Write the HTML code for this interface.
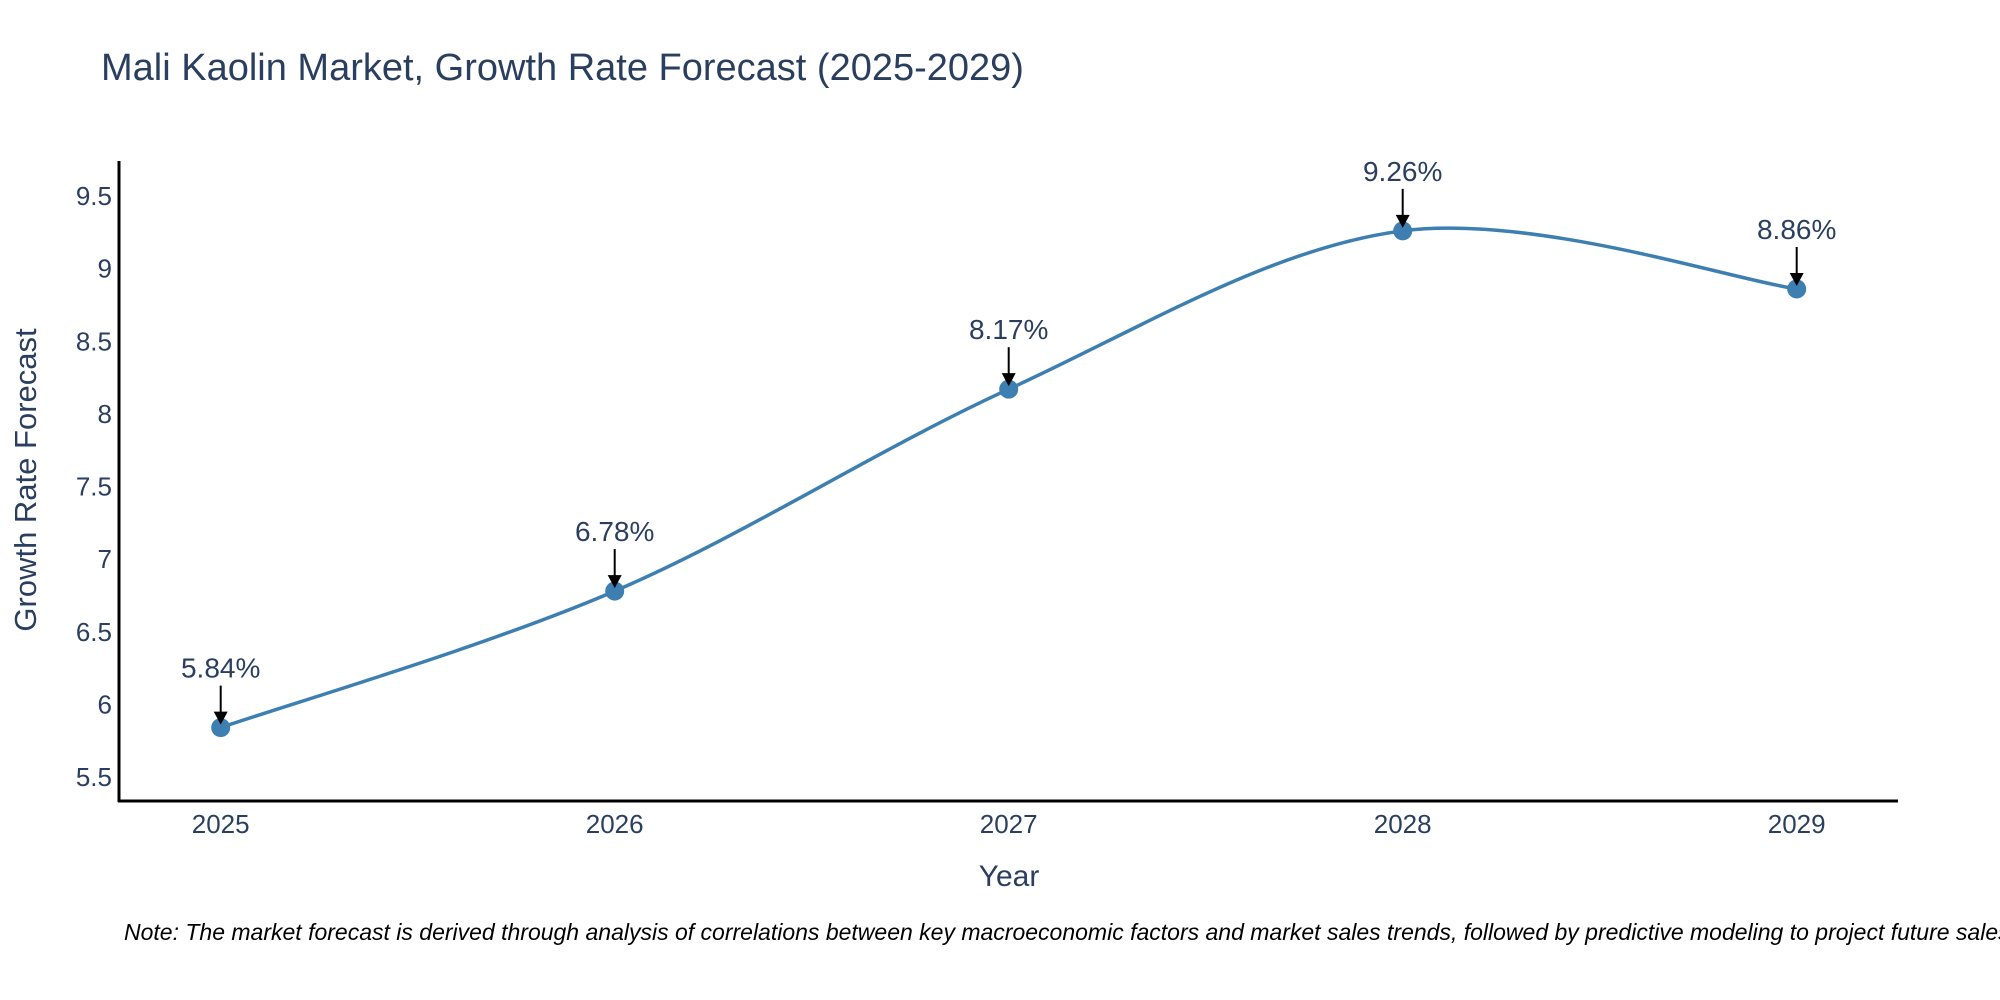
<!DOCTYPE html>
<html><head><meta charset="utf-8"><style>
html,body{margin:0;padding:0;background:#fff;width:2000px;height:1000px;overflow:hidden}
text{font-family:"Liberation Sans","DejaVu Sans",sans-serif}
</style></head><body>
<svg id="chart" width="2000" height="1000" xmlns="http://www.w3.org/2000/svg">
<text x="101" y="80" font-size="38" fill="#2a3f5f">Mali Kaolin Market, Growth Rate Forecast (2025-2029)</text>
<g id="yticks"></g>
<g id="xticks"></g>
<line x1="119" y1="161" x2="119" y2="802" stroke="#000" stroke-width="3"/>
<line x1="118" y1="801" x2="1898" y2="801" stroke="#000" stroke-width="3"/>
<text transform="translate(36,480) rotate(-90)" text-anchor="middle" font-size="31" fill="#2a3f5f">Growth Rate Forecast</text>
<text x="1009" y="886" text-anchor="middle" font-size="30" fill="#2a3f5f">Year</text>
<path id="line" fill="none" stroke="#3d7fb0" stroke-width="3.5"/>
<g id="points"></g>
<text x="124" y="940" font-size="23" font-style="italic" fill="#000">Note: The market forecast is derived through analysis of correlations between key macroeconomic factors and market sales trends, followed by predictive modeling to project future sales.</text>
</svg>
<script>
const years = [2025, 2026, 2027, 2028, 2029];
const values = [5.84, 6.78, 8.17, 9.26, 8.86];
const labels = ["5.84%", "6.78%", "8.17%", "9.26%", "8.86%"];
const yTicks = [5.5, 6, 6.5, 7, 7.5, 8, 8.5, 9, 9.5];
const yTickLabels = ["5.5", "6", "6.5", "7", "7.5", "8", "8.5", "9", "9.5"];

const NS = "http://www.w3.org/2000/svg";
function xScale(v){ return 220.7 + (v - 2025) * 394; }
function yScale(v){ return 777 - (v - 5.5) * 145.25; }
function mk(tag, attrs, parent){
  const el = document.createElementNS(NS, tag);
  for (const k in attrs) el.setAttribute(k, attrs[k]);
  parent.appendChild(el);
  return el;
}
const yg = document.getElementById('yticks');
yTicks.forEach((t, i) => {
  const el = mk('text', {x: 112, y: yScale(t) + 9, 'text-anchor': 'end', 'font-size': 26, fill: '#2a3f5f'}, yg);
  
  
  el.textContent = yTickLabels[i];
});
const xg = document.getElementById('xticks');
years.forEach(y => {
  const el = mk('text', {x: xScale(y), y: 833, 'text-anchor': 'middle', 'font-size': 26, fill: '#2a3f5f'}, xg);
  
  
  el.textContent = String(y);
});
const pts = years.map((y, i) => [xScale(y), yScale(values[i])]);
let d = 'M' + pts[0][0] + ',' + pts[0][1];
const s = 1/6;
for (let i = 0; i < pts.length - 1; i++) {
  const p0 = pts[Math.max(0, i - 1)], p1 = pts[i], p2 = pts[i + 1], p3 = pts[Math.min(pts.length - 1, i + 2)];
  const c1 = [p1[0] + (p2[0] - p0[0]) * s, p1[1] + (p2[1] - p0[1]) * s];
  const c2 = [p2[0] - (p3[0] - p1[0]) * s, p2[1] - (p3[1] - p1[1]) * s];
  d += ' C' + c1[0] + ',' + c1[1] + ' ' + c2[0] + ',' + c2[1] + ' ' + p2[0] + ',' + p2[1];
}
document.getElementById('line').setAttribute('d', d);
const pg = document.getElementById('points');
pts.forEach((p, i) => {
  const c = mk('circle', {cx: p[0], cy: p[1], r: 9.5, fill: '#3d7fb0'}, pg);
  
  
  const ln = mk('line', {x1: p[0], y1: p[1] - 42, x2: p[0], y2: p[1] - 14, stroke: '#000', 'stroke-width': 2}, pg);
  
  
  const hd = mk('polygon', {points: (p[0]-7)+','+(p[1]-16)+' '+(p[0]+7)+','+(p[1]-16)+' '+p[0]+','+(p[1]-3), fill: '#000'}, pg);
  
  
  const t = mk('text', {x: p[0], y: p[1] - 50, 'text-anchor': 'middle', 'font-size': 28, fill: '#2a3f5f'}, pg);
  
  
  t.textContent = labels[i];
});
</script>
</body></html>
